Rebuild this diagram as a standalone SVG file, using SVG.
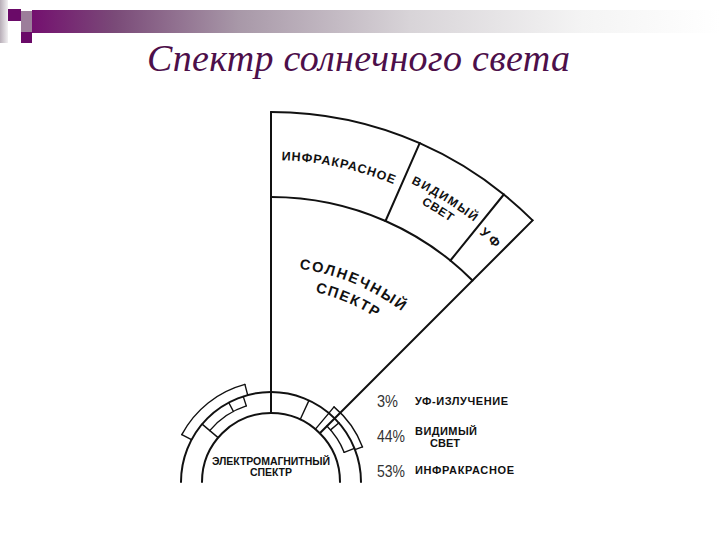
<svg xmlns="http://www.w3.org/2000/svg" width="720" height="540" viewBox="0 0 720 540">
<defs>
<linearGradient id="bar" x1="32" y1="0" x2="720" y2="0" gradientUnits="userSpaceOnUse">
<stop offset="0" stop-color="#74106f"/>
<stop offset="0.12" stop-color="#7a4a78"/>
<stop offset="0.3" stop-color="#a898a8"/>
<stop offset="0.55" stop-color="#d8d4d8"/>
<stop offset="0.8" stop-color="#f4f4f4"/>
<stop offset="1" stop-color="#ffffff"/>
</linearGradient>
<linearGradient id="strip" x1="0" y1="0" x2="1" y2="0">
<stop offset="0" stop-color="#b8aeb8"/>
<stop offset="1" stop-color="#f2f0f2"/>
</linearGradient>
<path id="pIR" d="M271,160 A322,322 0 0,1 498.7,254.3"/>
<path id="pVIS" d="M271,152 A330,330 0 0,1 504.3,248.7"/>
<path id="pSVET" d="M271,166 A316,316 0 0,1 494.4,258.6"/>
<path id="pUV" d="M271,158 A324,324 0 0,1 551.6,320"/>
<path id="pSOL" d="M271,267 A215,215 0 0,1 457.2,374.5"/>
<path id="pSPEK" d="M271,287 A195,195 0 0,1 439.9,384.5"/>
</defs>
<style>
.ln{fill:none;stroke:#111;stroke-width:2;stroke-linecap:round}
.th{fill:none;stroke:#111;stroke-width:1.4;stroke-linecap:round}
.lbl{font-family:"Liberation Sans",Arial,sans-serif;font-weight:bold;fill:#111}
.pct{font-family:"Liberation Sans",Arial,sans-serif;font-size:16px;fill:#333}
</style>

<g id="decor">
<rect x="0" y="0" width="8" height="43" fill="url(#strip)"/>
<rect x="8" y="9" width="13" height="12" fill="#6a0a68"/>
<rect x="21" y="11" width="11" height="22" fill="#9c7e9a"/>
<rect x="21" y="32" width="11" height="11" fill="#6a0a68"/>
<rect x="32" y="10" width="688" height="23" fill="url(#bar)"/>
</g>

<g id="title">
<text x="147" y="71" textLength="423" lengthAdjust="spacing" font-family="'Liberation Serif','Times New Roman',serif" font-style="italic" font-size="38" fill="#4d0f4a">Спектр солнечного света</text>
</g>

<g id="connectors">
<path class="ln" d="M271,112 L271,413"/>
<path class="ln" d="M532.6,220.4 L319.8,433.2"/>
</g>

<g id="band-infrared">
<path class="ln" d="M271,112 A370,370 0 0,1 419.7,143.2"/>
<path class="ln" d="M271,197 A285,285 0 0,1 385.5,221"/>
<path class="ln" d="M385.5,221 L419.7,143.2"/>
<text class="lbl" font-size="12.5"><textPath href="#pIR" startOffset="68" text-anchor="middle" textLength="115" lengthAdjust="spacing">ИНФРАКРАСНОЕ</textPath></text>
</g>

<g id="band-visible">
<path class="ln" d="M419.7,143.2 A370,370 0 0,1 503.8,194.5"/>
<path class="ln" d="M385.5,221 A285,285 0 0,1 450.4,260.5"/>
<path class="ln" d="M450.4,260.5 L503.8,194.5"/>
<text class="lbl" font-size="12"><textPath href="#pVIS" startOffset="181.5" text-anchor="middle" textLength="74" lengthAdjust="spacing">ВИДИМЫЙ</textPath></text>
<text class="lbl" font-size="12"><textPath href="#pSVET" startOffset="173.5" text-anchor="middle" textLength="34" lengthAdjust="spacing">СВЕТ</textPath></text>
</g>

<g id="band-uv">
<path class="ln" d="M503.8,194.5 A370,370 0 0,1 532.6,220.4"/>
<path class="ln" d="M450.4,260.5 A285,285 0 0,1 472.5,280.5"/>
<text class="lbl" font-size="13"><textPath href="#pUV" startOffset="236.9" text-anchor="middle" textLength="22" lengthAdjust="spacing">УФ</textPath></text>
</g>

<g id="solar-spectrum">
<text class="lbl" font-size="14.5"><textPath href="#pSOL" startOffset="84.4" text-anchor="middle" textLength="112" lengthAdjust="spacing">СОЛНЕЧНЫЙ</textPath></text>
<text class="lbl" font-size="14.5"><textPath href="#pSPEK" startOffset="77.6" text-anchor="middle" textLength="66" lengthAdjust="spacing">СПЕКТР</textPath></text>
</g>

<g id="em-spectrum">
<path class="ln" d="M181,482 A90,90 0 0,1 361,482"/>
<path class="ln" d="M202,482 A69,69 0 0,1 340,482"/>
<path class="th" d="M181.8,434.6 A101,101 0 0,1 244.9,384.4"/>
<path class="th" d="M181.8,434.6 L191.5,439.7"/>
<path class="th" d="M244.9,384.4 L247.7,395.1"/>
<path class="th" d="M209.7,430.6 A80,80 0 0,1 246.3,405.9"/>
<path class="th" d="M218.1,437.6 L202.1,424.1"/>
<path class="th" d="M233.4,411.4 L228.7,402.5"/>
<path class="th" d="M246.3,405.9 L243.2,396.4"/>
<path class="th" d="M300.2,419.5 L309,400.4"/>
<path class="th" d="M334,406.9 A98,98 0 0,1 362.5,446.9"/>
<path class="th" d="M334,406.9 L328.9,413.1"/>
<path class="th" d="M362.5,446.9 L355,449.7"/>
<path class="th" d="M326.9,426.1 A79,79 0 0,1 344.2,452.4"/>
<path class="th" d="M344.2,452.4 L354.4,448.3"/>
<path class="th" d="M315.4,429.1 L328.9,413.1"/>
<path class="th" d="M330.6,429.9 L339,422.8"/>
<text class="lbl" font-size="10.5" x="271" y="465" text-anchor="middle" textLength="118" lengthAdjust="spacing">ЭЛЕКТРОМАГНИТНЫЙ</text>
<text class="lbl" font-size="10.5" x="271" y="476" text-anchor="middle" textLength="42" lengthAdjust="spacing">СПЕКТР</text>
</g>

<g id="legend">
<text class="pct" x="377" y="407" textLength="21" lengthAdjust="spacingAndGlyphs">3%</text>
<text class="lbl" font-size="11" x="415" y="405" textLength="93" lengthAdjust="spacing">УФ-ИЗЛУЧЕНИЕ</text>
<text class="pct" x="377" y="442" textLength="28" lengthAdjust="spacingAndGlyphs">44%</text>
<text class="lbl" font-size="11" x="415" y="435" textLength="62" lengthAdjust="spacing">ВИДИМЫЙ</text>
<text class="lbl" font-size="11" x="430" y="447" textLength="30" lengthAdjust="spacing">СВЕТ</text>
<text class="pct" x="377" y="477" textLength="28" lengthAdjust="spacingAndGlyphs">53%</text>
<text class="lbl" font-size="11" x="415" y="473.5" textLength="99" lengthAdjust="spacing">ИНФРАКРАСНОЕ</text>
</g>
</svg>
